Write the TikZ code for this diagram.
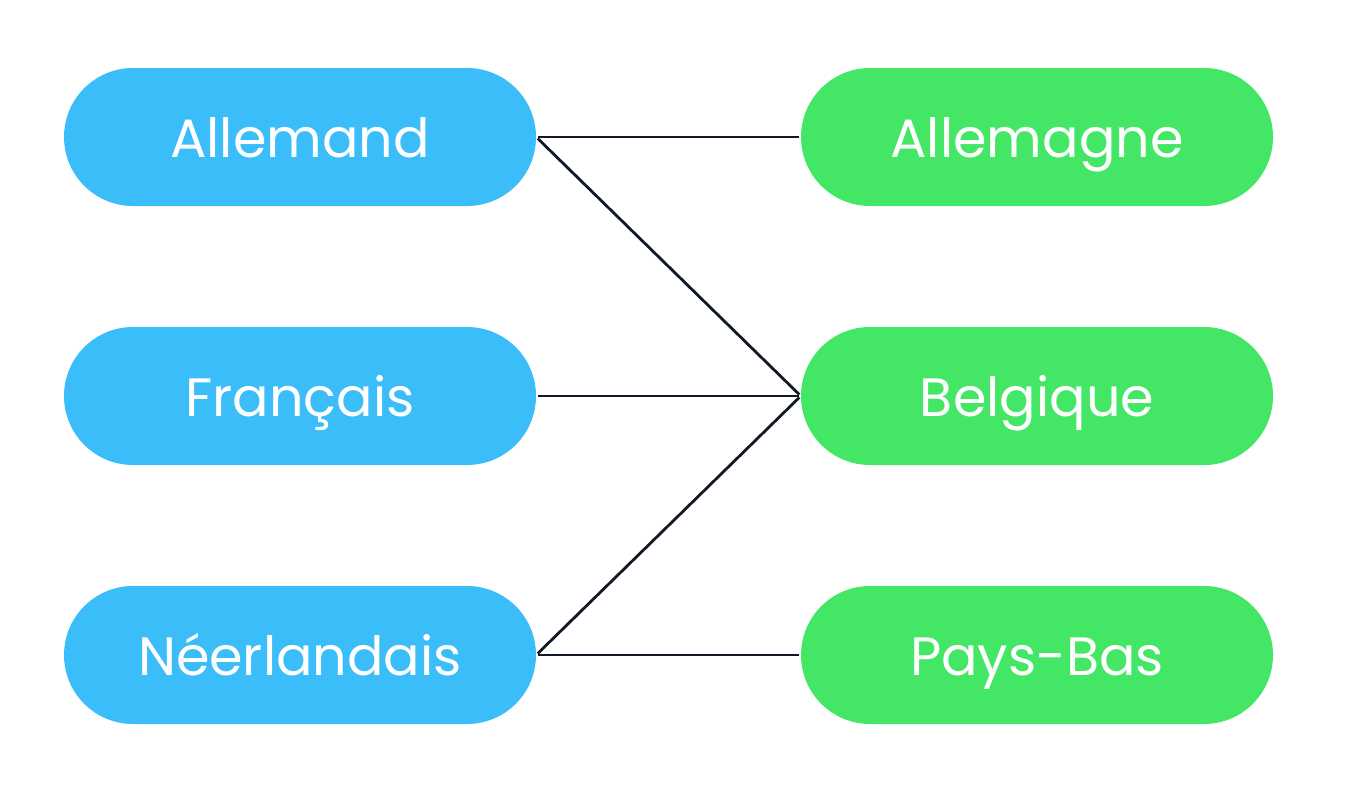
\documentclass[tikz,border=0pt]{standalone}
\usepackage{fontspec}
\setmainfont{Poppins}
\definecolor{pillblue}{HTML}{3BBDF9}
\definecolor{pillgreen}{HTML}{44E765}
\definecolor{linkcol}{HTML}{111827}
\begin{document}
\begin{tikzpicture}[x=1pt,y=-1pt,
  pill/.style={rounded corners=69pt, minimum width=472pt, minimum height=138pt,
    inner sep=0pt, text height=40pt, text depth=0pt, text=white,
    font=\fontsize{54}{60}\selectfont},
  lang/.style={pill, fill=pillblue},
  ctry/.style={pill, fill=pillgreen},
  link/.style={draw=linkcol, line width=2.8pt, shorten <=2pt, shorten >=2pt}]
\useasboundingbox (0,0) rectangle (1364,784);
\node[lang] (de) at (300,137) {Allemand};
\node[lang] (fr) at (300,396) {Français};
\node[lang] (nl) at (300,655) {Néerlandais};
\node[ctry] (DE) at (1037,137) {Allemagne};
\node[ctry] (BE) at (1037,396) {Belgique};
\node[ctry] (NL) at (1037,655) {Pays-Bas};
\draw[link] (de.east) -- (DE.west);
\draw[link] (de.east) -- (BE.west);
\draw[link] (fr.east) -- (BE.west);
\draw[link] (nl.east) -- (BE.west);
\draw[link] (nl.east) -- (NL.west);
\end{tikzpicture}
\end{document}
